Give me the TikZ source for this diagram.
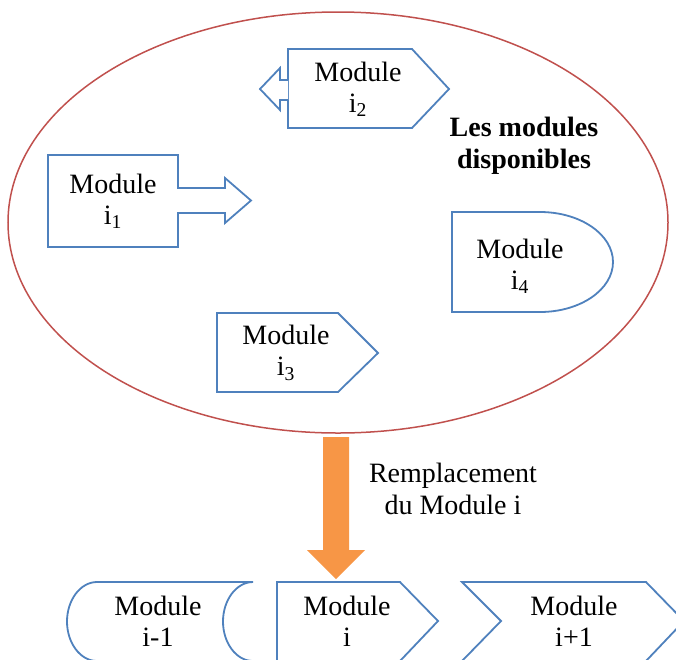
\documentclass[tikz,border=0pt]{standalone}
\usepackage{fontspec}
\setmainfont{Liberation Serif}
\usetikzlibrary{shapes.geometric}
\definecolor{modblue}{HTML}{4F81BD}
\definecolor{poolred}{HTML}{C0504D}
\definecolor{arroworange}{HTML}{F79646}
\begin{document}
\begin{tikzpicture}[x=1pt,y=-1pt,
  modshape/.style={draw=modblue,line width=1.8pt,line join=miter,fill=white},
  modtext/.style={align=center,font=\fontsize{28}{31}\selectfont,inner sep=0pt},
  pooltext/.style={align=center,font=\fontsize{28}{32}\selectfont\bfseries,inner sep=0pt},
  labeltext/.style={align=center,font=\fontsize{28}{32}\selectfont,inner sep=0pt}]
\useasboundingbox (0,0) rectangle (676,659);
% pool of modules
\node[ellipse,draw=poolred,line width=1.5pt,minimum width=660pt,minimum height=421pt,inner sep=0pt] (pool) at (338,222.5) {};
% Module i2 : pentagon with left arrow
\draw[modshape] (288,49) -- (412,49) -- (449,89) -- (412,128) -- (288,128) -- cycle;
\draw[modshape] (288,80) -- (280,80) -- (280,68) -- (260,89) -- (280,110) -- (280,100) -- (288,100);
\node[modtext] (m2) at (358,89) {Module\\i\textsubscript{2}};
% Module i1 : right arrow callout
\draw[modshape] (48,155) -- (178,155) -- (178,188) -- (225,188) -- (225,178) -- (251,200.5) -- (225,223) -- (225,213) -- (178,213) -- (178,247) -- (48,247) -- cycle;
\node[modtext] (m1) at (113,201) {Module\\i\textsubscript{1}};
% Module i3 : pentagon
\draw[modshape] (217,313) -- (338,313) -- (378,353) -- (338,392) -- (217,392) -- cycle;
\node[modtext] (m3) at (286,353) {Module\\i\textsubscript{3}};
% Module i4 : delay shape
\draw[modshape] (452,212) -- (540,212) .. controls (580.3,212) and (613,234.4) .. (613,262)
  .. controls (613,289.6) and (580.3,312) .. (540,312) -- (452,312) -- cycle;
\node[modtext] (m4) at (520,266) {Module\\i\textsubscript{4}};
% label
\node[pooltext] (lbl) at (524,146) {Les modules\\disponibles};
% bottom row
\draw[modshape] (97,582) -- (253,582) .. controls (236.4,582) and (223,600) .. (223,621.5)
  .. controls (223,643) and (236.4,661) .. (253,661) -- (97,661)
  .. controls (80.4,661) and (67,643) .. (67,621.5) .. controls (67,600) and (80.4,582) .. (97,582) -- cycle;
\node[modtext] (mprev) at (158,621) {Module\\i-1};
\draw[modshape] (277,582) -- (400,582) -- (438,621) -- (400,661) -- (277,661) -- cycle;
\node[modtext] (mi) at (347,621) {Module\\i};
\draw[modshape] (462,582) -- (646,582) -- (684,621) -- (646,661) -- (462,661) -- (501,621) -- cycle;
\node[modtext] (mnext) at (574,621) {Module\\i+1};
% replacement arrow
\fill[arroworange] (323,437) -- (349,437) -- (349,550) -- (365,550) -- (336,579) -- (307,550) -- (323,550) -- cycle;
\node[labeltext] (repl) at (453,489) {Remplacement\\du Module i};
\end{tikzpicture}
\end{document}
